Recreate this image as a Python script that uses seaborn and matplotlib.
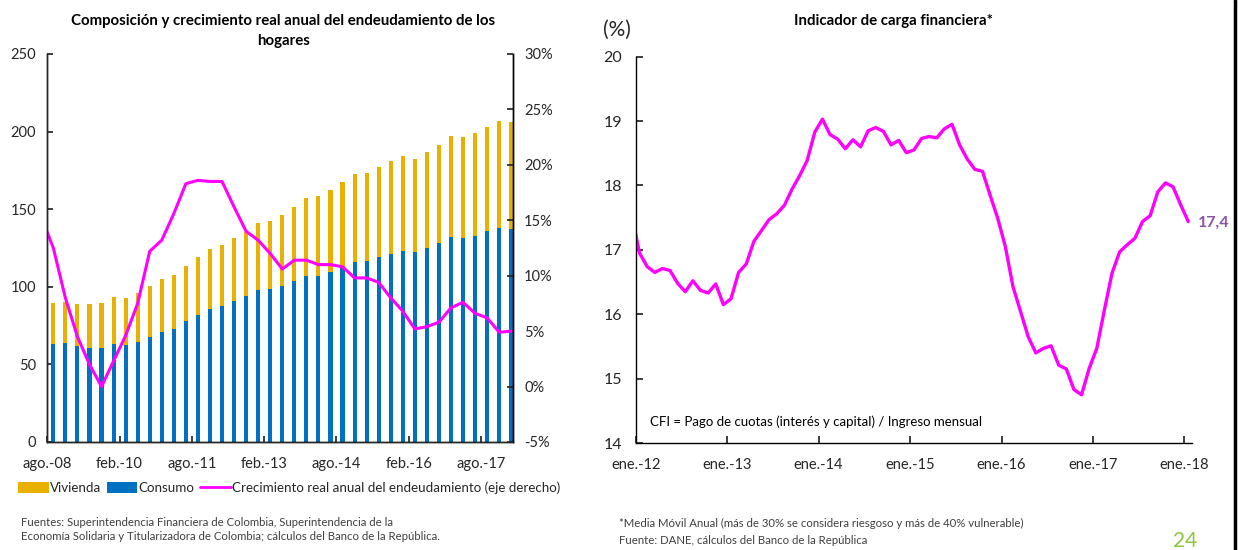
import matplotlib
matplotlib.use("Agg")
import matplotlib.pyplot as plt
import seaborn as sns
import pandas as pd
import numpy as np
from matplotlib.patches import Patch
from matplotlib.lines import Line2D

# ---- datos: composicion del endeudamiento (billones, trimestral ago-08 a feb-18)
trimestres = ["ago.-08", "nov.-08"] + [f"{m}.-{a:02d}" for a in range(9, 18)
                                       for m in ["feb", "may", "ago", "nov"]] + ["feb.-18"]
consumo = [63.0, 63.8, 61.7, 60.8, 60.8, 63.0, 62.5, 64.5, 67.7, 71.1,
           72.9, 77.8, 81.7, 85.8, 87.7, 90.9, 94.1, 97.6, 98.6, 100.6,
           103.5, 106.8, 106.8, 109.2, 112.8, 116.1, 116.5, 119.1, 121.2, 122.9,
           122.1, 125.1, 128.1, 132.2, 131.3, 133.0, 135.8, 138.0, 137.1]
vivienda = [26.6, 26.2, 27.5, 28.4, 28.8, 30.3, 30.5, 31.5, 32.7, 34.2,
            34.6, 35.7, 37.3, 38.8, 39.5, 40.8, 40.9, 43.6, 43.8, 45.7,
            47.9, 50.4, 51.4, 53.1, 54.8, 56.5, 56.9, 58.2, 60.0, 61.3,
            60.4, 61.7, 63.2, 64.9, 64.9, 66.2, 67.3, 69.0, 69.2]
# crecimiento real anual (%), desde may-08 (primer punto queda fuera del eje)
crecimiento = [15.3, 12.5, 8.0, 4.5, 2.0, 0.0, 2.3, 4.6, 7.5, 12.2, 13.2,
               15.6, 18.3, 18.6, 18.5, 18.5, 16.2, 14.0, 13.2, 12.0, 10.6,
               11.4, 11.4, 11.0, 11.0, 10.8, 9.8, 9.8, 9.4, 8.0, 6.8,
               5.2, 5.4, 5.8, 7.1, 7.6, 6.6, 6.2, 4.9, 5.0]

# ---- datos: indicador de carga financiera (%), mensual dic-11 a ene-18
carga = [17.53,
         16.95, 16.74, 16.65, 16.71, 16.68, 16.48, 16.35, 16.52, 16.37, 16.33,
         16.47, 16.15, 16.24, 16.65, 16.78, 17.13, 17.30, 17.47, 17.56, 17.69,
         17.94, 18.15, 18.39, 18.83, 19.03, 18.79, 18.72, 18.57, 18.71, 18.60,
         18.85, 18.90, 18.84, 18.63, 18.70, 18.51, 18.55, 18.73, 18.76, 18.74,
         18.88, 18.95, 18.63, 18.41, 18.25, 18.22, 17.85, 17.49, 17.05, 16.43,
         16.04, 15.65, 15.40, 15.47, 15.51, 15.21, 15.15, 14.83, 14.75, 15.16,
         15.47, 16.07, 16.64, 16.97, 17.08, 17.18, 17.44, 17.53, 17.90, 18.04,
         17.98, 17.70, 17.44]
anios = ["ene.-12", "ene.-13", "ene.-14", "ene.-15", "ene.-16", "ene.-17", "ene.-18"]

sns.set_theme(style="white")
plt.rcParams["font.family"] = ["Lato", "DejaVu Sans"]
plt.rcParams["axes.linewidth"] = 1.0

amarillo = "#E8B000"
azul = "#0070C0"
magenta = "#FF00FF"
texto = "#262626"

fig = plt.figure(figsize=(12.38, 5.5), dpi=100)

# ================= panel izquierdo =================
ax = fig.add_axes([0.0382, 0.1964, 0.3762, 0.7055])
df = pd.DataFrame({"trim": trimestres, "consumo": consumo, "vivienda": vivienda})
df["total"] = df["consumo"] + df["vivienda"]
sns.barplot(data=df, x="trim", y="total", color=amarillo, width=0.34,
            saturation=1, ax=ax, linewidth=0)
sns.barplot(data=df, x="trim", y="consumo", color=azul, width=0.34,
            saturation=1, ax=ax, linewidth=0)
ax.set_ylim(0, 250)
ax.set_yticks(range(0, 251, 50))
ax.set_xlim(-0.5, 38.15)
ax.set_xticks([i - 0.5 for i in range(0, len(trimestres), 6)])
ax.set_xticklabels(trimestres[::6], fontsize=10.5, color=texto)
ax.set_xlabel("")
ax.set_ylabel("")
ax.tick_params(axis="y", labelsize=10.5, labelcolor=texto, direction="in",
               length=4, left=True, pad=8)
ax.tick_params(axis="x", direction="in", length=4, bottom=True, pad=11)
ax.spines["top"].set_visible(False)
for s in ["left", "bottom", "right"]:
    ax.spines[s].set_color("black")

ax2 = ax.twinx()
dl = pd.DataFrame({"pos": np.arange(len(crecimiento)) - 1, "crec": crecimiento})
sns.lineplot(data=dl, x="pos", y="crec", color=magenta, linewidth=2.2, ax=ax2)
ax2.set_ylim(-5, 30)
ax2.set_yticks(range(-5, 31, 5))
ax2.set_yticklabels([f"{v}%" for v in range(-5, 31, 5)])
ax2.set_xlim(-0.5, 38.15)
ax2.set_ylabel("")
ax2.tick_params(axis="y", labelsize=10.5, labelcolor=texto, direction="in",
                length=4, right=True, pad=8)
ax2.spines["top"].set_visible(False)
ax2.spines["right"].set_color("black")

fig.text(0.229, 0.962, "Composición y crecimiento real anual del endeudamiento de los",
         ha="center", va="center", fontsize=10.8, fontweight="bold", color="black")
fig.text(0.229, 0.925, "hogares", ha="center", va="center", fontsize=10.8,
         fontweight="bold", color="black")

handles = [Patch(facecolor=amarillo, edgecolor="none"),
           Patch(facecolor=azul, edgecolor="none"),
           Line2D([], [], color=magenta, linewidth=2)]
fig.legend(handles, ["Vivienda", "Consumo",
                     "Crecimiento real anual del endeudamiento (eje derecho)"],
           loc="center left", bbox_to_anchor=(0.005, 0.113), ncol=3, frameon=False,
           fontsize=9.6, handlelength=2.3, handleheight=0.9, handletextpad=0.1,
           columnspacing=0.4, labelcolor=texto)

fig.text(0.017, 0.037, "Fuentes: Superintendencia Financiera de Colombia, Superintendencia de la\n"
         "Economía Solidaria y Titularizadora de Colombia; cálculos del Banco de la República.",
         ha="left", va="center", fontsize=8.2, color="#404040", linespacing=1.35)

# ================= panel derecho =================
bx = fig.add_axes([0.5135, 0.1945, 0.4494, 0.7024])
dc = pd.DataFrame({"pos": np.arange(len(carga)) - 0.5, "carga": carga})
sns.lineplot(data=dc, x="pos", y="carga", color=magenta, linewidth=2.4, ax=bx)
bx.set_ylim(14, 20)
bx.set_yticks(range(14, 21))
bx.set_xlim(0, 73)
bx.set_xticks(range(0, 73, 12))
bx.set_xticklabels(anios)
bx.set_xlabel("")
bx.set_ylabel("")
bx.tick_params(axis="y", labelsize=11.5, labelcolor=texto, direction="in",
               length=5, left=True, pad=10)
bx.tick_params(axis="x", labelsize=10.5, labelcolor=texto, direction="in",
               length=5, bottom=True, pad=11)
for s in ["top", "right"]:
    bx.spines[s].set_visible(False)
for s in ["left", "bottom"]:
    bx.spines[s].set_color("black")

bx.annotate(f"{carga[-1]:.1f}".replace(".", ","), xy=(dc["pos"].iloc[-1], carga[-1]),
            xytext=(7, -1), textcoords="offset points", ha="left", va="center",
            fontsize=11.5, fontweight="bold", color="#8E54A8")
bx.text(0.025, 0.055, "CFI = Pago de cuotas (interés y capital) / Ingreso mensual",
        transform=bx.transAxes, fontsize=9.5, color="black", ha="left", va="center")

fig.text(0.722, 0.962, "Indicador de carga financiera*", ha="center", va="center",
         fontsize=10.8, fontweight="bold", color="black")
fig.text(0.4985, 0.945, "(%)", ha="center", va="center", fontsize=15, color=texto)

fig.text(0.5, 0.048, "*Media Móvil Anual (más de 30% se considera riesgoso y más de 40% vulnerable)",
         ha="left", va="center", fontsize=8.2, color="#404040")
fig.text(0.5, 0.017, "Fuente: DANE, cálculos del Banco de la República",
         ha="left", va="center", fontsize=8.2, color="#404040")
fig.text(0.957, 0.017, "24", ha="center", va="center", fontsize=15, color="#8CC63F")

fig.add_artist(Line2D([0.9972, 0.9972], [0, 1], color="black", linewidth=2.5,
                      transform=fig.transFigure))

fig.savefig("out.png", dpi=100)
